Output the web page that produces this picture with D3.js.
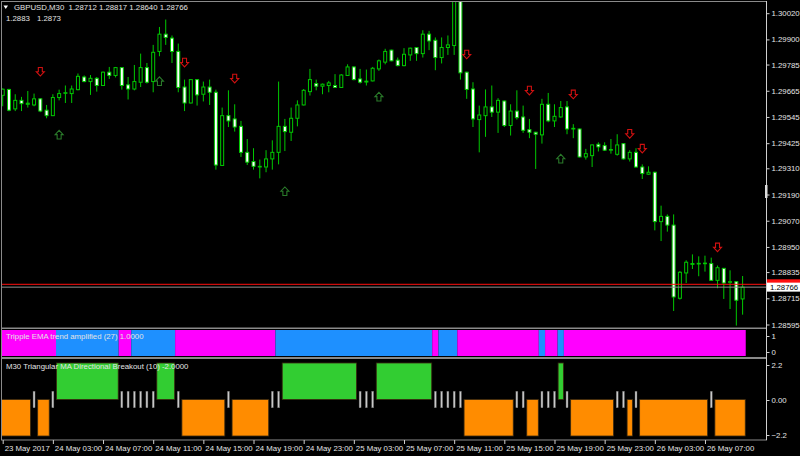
<!DOCTYPE html>
<html><head><meta charset="utf-8">
<script src="https://cdn.jsdelivr.net/npm/d3@7/dist/d3.min.js"></script>
<style>
body{margin:0;background:#000;}
svg{display:block;}
text{font-family:"Liberation Sans",Arial,sans-serif;font-size:7.8px;fill:#e4e4e4;white-space:pre;}
</style>
</head><body>
<svg id="chart" width="800" height="456"></svg>
<script>
// ---------------- DATA ----------------
const symbolTitle = "GBPUSD,M30";
const headerOHLC = ["1.28712", "1.28817", "1.28640", "1.28766"];
const headerLine2 = ["1.2883", "1.2873"];
const trendLabel = "Tripple EMA trend amplified (27) 1.0000";
const breakoutLabel = "M30 Triangular MA Directional Breakout (10) -2.0000";

const timeLabels = ["23 May 2017","24 May 03:00","24 May 07:00","24 May 11:00","24 May 15:00",
  "24 May 19:00","24 May 23:00","25 May 03:00","25 May 07:00","25 May 11:00","25 May 15:00",
  "25 May 19:00","25 May 23:00","26 May 03:00","26 May 07:00"];
const timeLabelBars = [0,8,16,24,32,40,48,56,64,72,80,88,96,104,112];

const priceTicks = [1.30020,1.29900,1.29785,1.29665,1.29545,1.29425,1.29310,1.29190,1.29070,1.28950,1.28835,1.28715,1.28595];
const trendTicks = [1, 0];
const breakoutTicks = [2.2, 0, -2.2];

const opens = [1.29644,1.29671,1.29582,1.29621,1.29603,1.29600,1.29628,1.29576,1.29551,1.29634,
 1.29654,1.29652,1.29670,1.29728,1.29707,1.29722,1.29689,1.29750,1.29735,1.29771,
 1.29692,1.29673,1.29704,1.29771,1.29707,1.29845,1.29924,1.29906,1.29845,1.29682,
 1.29609,1.29716,1.29649,1.29682,1.29658,1.29323,1.29551,1.29536,1.29502,1.29383,
 1.29341,1.29316,1.29316,1.29353,1.29383,1.29502,1.29475,1.29539,1.29600,1.29661,
 1.29698,1.29686,1.29689,1.29689,1.29680,1.29735,1.29774,1.29719,1.29709,1.29710,
 1.29765,1.29796,1.29851,1.29805,1.29780,1.29829,1.29863,1.29835,1.29924,1.29896,
 1.29817,1.29863,1.29872,1.30075,1.29750,1.29673,1.29533,1.29551,1.29591,1.29567,
 1.29618,1.29506,1.29572,1.29545,1.29487,1.29475,1.29463,1.29603,1.29527,1.29545,
 1.29591,1.29490,1.29490,1.29362,1.29368,1.29420,1.29414,1.29393,1.29374,1.29423,
 1.29353,1.29383,1.29316,1.29283,1.29292,1.29066,1.29090,1.29050,1.28715,1.28831,
 1.28870,1.28875,1.28874,1.28874,1.28797,1.28852,1.28788,1.28791,1.28712];
const highs = [1.29676,1.29674,1.29649,1.29637,1.29664,1.29652,1.29631,1.29600,1.29649,1.29670,
 1.29689,1.29689,1.29744,1.29735,1.29737,1.29728,1.29753,1.29774,1.29774,1.29773,
 1.29728,1.29783,1.29835,1.29792,1.29875,1.29957,1.29991,1.29918,1.29881,1.29716,
 1.29718,1.29718,1.29707,1.29716,1.29670,1.29588,1.29667,1.29603,1.29527,1.29444,
 1.29402,1.29350,1.29393,1.29438,1.29707,1.29536,1.29588,1.29621,1.29673,1.29765,
 1.29716,1.29698,1.29710,1.29741,1.29741,1.29786,1.29776,1.29765,1.29762,1.29774,
 1.29808,1.29857,1.29853,1.29817,1.29860,1.29862,1.29865,1.29942,1.29939,1.29909,
 1.29909,1.29918,1.30120,1.30100,1.29752,1.29704,1.29597,1.29671,1.29689,1.29631,
 1.29620,1.29603,1.29667,1.29597,1.29536,1.29477,1.29628,1.29655,1.29603,1.29618,
 1.29618,1.29512,1.29492,1.29399,1.29419,1.29429,1.29429,1.29444,1.29466,1.29425,
 1.29393,1.29402,1.29328,1.29319,1.29294,1.29139,1.29099,1.29099,1.28840,1.28889,
 1.28916,1.28907,1.28910,1.28901,1.28865,1.28854,1.28843,1.28793,1.28817];
const lows = [1.29594,1.29571,1.29572,1.29572,1.29588,1.29594,1.29567,1.29539,1.29549,1.29621,
 1.29609,1.29609,1.29667,1.29704,1.29646,1.29661,1.29687,1.29719,1.29726,1.29670,
 1.29625,1.29667,1.29682,1.29698,1.29658,1.29823,1.29875,1.29792,1.29658,1.29572,
 1.29607,1.29597,1.29616,1.29600,1.29304,1.29321,1.29499,1.29478,1.29362,1.29325,
 1.29304,1.29264,1.29292,1.29304,1.29328,1.29389,1.29435,1.29502,1.29598,1.29643,
 1.29667,1.29649,1.29658,1.29678,1.29678,1.29733,1.29713,1.29698,1.29689,1.29708,
 1.29756,1.29786,1.29800,1.29777,1.29777,1.29802,1.29802,1.29817,1.29851,1.29759,
 1.29790,1.29829,1.29829,1.29716,1.29628,1.29499,1.29383,1.29454,1.29545,1.29472,
 1.29499,1.29460,1.29533,1.29472,1.29448,1.29307,1.29423,1.29521,1.29499,1.29542,
 1.29466,1.29448,1.29360,1.29350,1.29316,1.29387,1.29389,1.29377,1.29368,1.29350,
 1.29341,1.29313,1.29261,1.29281,1.29026,1.28977,1.29020,1.28657,1.28709,1.28785,
 1.28849,1.28816,1.28837,1.28795,1.28761,1.28712,1.28666,1.28590,1.28640];
const closes = [1.29672,1.29576,1.29621,1.29606,1.29608,1.29628,1.29572,1.29551,1.29634,1.29652,
 1.29656,1.29673,1.29731,1.29707,1.29722,1.29689,1.29750,1.29735,1.29771,1.29689,
 1.29673,1.29707,1.29771,1.29704,1.29841,1.29924,1.29909,1.29845,1.29680,1.29609,
 1.29716,1.29646,1.29682,1.29658,1.29325,1.29551,1.29527,1.29499,1.29383,1.29338,
 1.29319,1.29319,1.29353,1.29383,1.29502,1.29478,1.29539,1.29600,1.29667,1.29716,
 1.29686,1.29695,1.29701,1.29680,1.29737,1.29774,1.29716,1.29704,1.29705,1.29768,
 1.29802,1.29845,1.29802,1.29780,1.29832,1.29860,1.29835,1.29924,1.29893,1.29817,
 1.29863,1.29875,1.30075,1.29747,1.29671,1.29536,1.29554,1.29591,1.29567,1.29621,
 1.29506,1.29572,1.29542,1.29484,1.29475,1.29466,1.29603,1.29527,1.29548,1.29588,
 1.29490,1.29493,1.29362,1.29377,1.29417,1.29408,1.29393,1.29396,1.29417,1.29353,
 1.29383,1.29316,1.29286,1.29292,1.29066,1.29090,1.29050,1.28721,1.28834,1.28880,
 1.28874,1.28872,1.28876,1.28797,1.28855,1.28785,1.28791,1.28706,1.28766];

const bidPrice = 1.28766;
const askPrice = 1.28779;

// signal arrows: bar index + price level
const sellArrowBars   = [6, 29, 37, 74, 84, 91, 100, 102, 114];
const sellArrowPrices = [1.29752,1.29794,1.29721,1.29831,1.29666,1.29648,1.29468,1.29400,1.28948];
const buyArrowBars    = [9, 25, 45, 60, 89];
const buyArrowPrices  = [1.29464,1.29709,1.29205,1.29638,1.29354];

// Tripple EMA trend: 1 = up (blue), -1 = down (magenta); histogram height 1
const trendState = [-1,-1,-1,-1,-1,-1,-1,-1,-1, 1,1,1,1,1,1,1,1,1,1, -1,-1, 1,1,1,1,1,1,1,
 -1,-1,-1,-1,-1,-1,-1,-1,-1,-1,-1,-1,-1,-1,-1,-1,
 1,1,1,1,1,1,1,1,1,1,1,1,1,1,1,1,1,1,1,1,1,1,1,1,1,
 -1, 1,1,1, -1,-1,-1,-1,-1,-1,-1,-1,-1,-1,-1,-1,-1, 1, -1,-1, 1,
 -1,-1,-1,-1,-1,-1,-1,-1,-1,-1,-1,-1,-1,-1,-1,-1,-1,-1,-1,-1,-1,-1,-1,-1,-1,-1,-1,-1,-1];
const trendValue = 1;

// Triangular MA breakout histogram: 2.2 up, -2.2 down, 0 neutral
const breakout = [-2.2,-2.2,-2.2,-2.2,-2.2, 0, -2.2,-2.2, 0,
 2.2,2.2,2.2,2.2,2.2,2.2,2.2,2.2,2.2,2.2, 0,0,0,0,0,0, 2.2,2.2,2.2, 0,
 -2.2,-2.2,-2.2,-2.2,-2.2,-2.2,-2.2, 0, -2.2,-2.2,-2.2,-2.2,-2.2,-2.2, 0,0,
 2.2,2.2,2.2,2.2,2.2,2.2,2.2,2.2,2.2,2.2,2.2,2.2, 0,0,0,
 2.2,2.2,2.2,2.2,2.2,2.2,2.2,2.2,2.2, 0,0,0,0,0,
 -2.2,-2.2,-2.2,-2.2,-2.2,-2.2,-2.2,-2.2, 0,0, -2.2,-2.2, 0,0,0, 2.2, 0,
 -2.2,-2.2,-2.2,-2.2,-2.2,-2.2,-2.2, 0,0, -2.2, 0,
 -2.2,-2.2,-2.2,-2.2,-2.2,-2.2,-2.2,-2.2,-2.2,-2.2,-2.2, 0,
 -2.2,-2.2,-2.2,-2.2,-2.2];
const neutralBand = 0.5;

// ---------------- STYLE / LAYOUT ----------------
const C = {
  frame:"#8a8a8a", text:"#e4e4e4", candle:"#00c800", bear:"#ffffff", bull:"#000000",
  sell:"#d01010", buy:"#2a7a2a", up:"#1e90ff", down:"#ff00ff",
  bUp:"#32cd32", bDown:"#ff8c00", bNeutral:"#c8c8c8", ask:"#ff1010", bid:"#909090"
};
const plotL = 2, plotR = 766;
const mainP = {top:2, bottom:327.5};
const p1 = {top:329, bottom:357};
const p2 = {top:359, bottom:439.5};

const svg = d3.select("#chart");
svg.append("rect").attr("width",800).attr("height",456).attr("fill","#000");

const n = opens.length;
const x = d3.scaleLinear().domain([0, 118]).range([2.7, 742.6]);
const step = x(1) - x(0);
const y = d3.scaleLinear().domain([1.28595, 1.30020]).range([324.5, 13.2]);
const y1 = d3.scaleLinear().domain([0, 1]).range([356, 330]);
const y2 = d3.scaleLinear().domain([-2.2, 2.2]).range([436, 363]);

const defs = svg.append("defs");
function clip(id, p){
  defs.append("clipPath").attr("id",id).append("rect")
    .attr("x",plotL).attr("y",p.top).attr("width",plotR-plotL).attr("height",p.bottom-p.top);
}
clip("cMain", mainP); clip("c1", p1); clip("c2", p2);

function makeRuns(vals){
  const runs = [];
  vals.forEach((v,i)=>{
    const last = runs[runs.length-1];
    if (last && last.v === v && last.end === i-1) last.end = i;
    else runs.push({v, start:i, end:i});
  });
  return runs;
}

// ---------- main candles ----------
const gm = svg.append("g").attr("clip-path","url(#cMain)");
const idx = d3.range(n);
gm.selectAll("line.wick").data(idx).join("line")
  .attr("x1", i=>x(i)).attr("x2", i=>x(i))
  .attr("y1", i=>y(highs[i])).attr("y2", i=>y(lows[i]))
  .attr("stroke", C.candle).attr("stroke-width",1);
gm.selectAll("rect.body").data(idx).join("rect")
  .attr("x", i=>x(i)-1.5).attr("width",3)
  .attr("y", i=>y(Math.max(opens[i],closes[i])))
  .attr("height", i=>Math.max(0.6, Math.abs(y(opens[i])-y(closes[i]))))
  .attr("fill", i=> closes[i] >= opens[i] ? C.bull : C.bear)
  .attr("stroke", C.candle).attr("stroke-width",1);

// arrows
function arrowPath(cx, cy, dir){ // dir=1 down, -1 up
  const h=4.3, s=2, w=4;
  return `M${cx-s},${cy-h*dir} L${cx+s},${cy-h*dir} L${cx+s},${cy} L${cx+w},${cy} L${cx},${cy+h*dir} L${cx-w},${cy} L${cx-s},${cy} Z`;
}
gm.selectAll("path.sell").data(sellArrowBars).join("path")
  .attr("d",(b,k)=>arrowPath(x(b), y(sellArrowPrices[k]), 1))
  .attr("fill","none").attr("stroke",C.sell).attr("stroke-width",1.1);
gm.selectAll("path.buy").data(buyArrowBars).join("path")
  .attr("d",(b,k)=>arrowPath(x(b), y(buyArrowPrices[k]), -1))
  .attr("fill","none").attr("stroke",C.buy).attr("stroke-width",1.1);

// bid / ask lines
gm.append("line").attr("x1",plotL).attr("x2",plotR).attr("y1",y(bidPrice)).attr("y2",y(bidPrice))
  .attr("stroke",C.bid).attr("stroke-width",1);
gm.append("line").attr("x1",plotL).attr("x2",plotR).attr("y1",y(askPrice)).attr("y2",y(askPrice))
  .attr("stroke",C.ask).attr("stroke-width",1);

// ---------- pane 1: trend ----------
const g1 = svg.append("g").attr("clip-path","url(#c1)");
g1.selectAll("rect").data(makeRuns(trendState)).join("rect")
  .attr("x", r=>x(r.start)-step/2).attr("width", r=>x(r.end)-x(r.start)+step)
  .attr("y", y1(trendValue)).attr("height", y1(0)-y1(trendValue))
  .attr("fill", r=> r.v > 0 ? C.up : C.down);

// ---------- pane 2: breakout ----------
const g2 = svg.append("g").attr("clip-path","url(#c2)");
const runs = makeRuns(breakout).filter(r=>r.v!==0);
g2.selectAll("rect.run").data(runs).join("rect")
  .attr("x", r=>x(r.start)-step/2+0.5).attr("width", r=>x(r.end)-x(r.start)+step-1)
  .attr("y", r=>Math.min(y2(r.v), y2(0))).attr("height", r=>Math.abs(y2(r.v)-y2(0)))
  .attr("fill", r=> r.v>0 ? C.bUp : C.bDown)
  .attr("stroke","#3a2a10").attr("stroke-width",0.8);
g2.selectAll("rect.neu").data(idx.filter(i=>breakout[i]===0)).join("rect")
  .attr("x", i=>x(i)-1).attr("width",2)
  .attr("y", y2(neutralBand)).attr("height", y2(-neutralBand)-y2(neutralBand))
  .attr("fill", C.bNeutral).attr("stroke","#555").attr("stroke-width",0.4);

// ---------- frames ----------
[mainP, p1, p2].forEach(p=>{
  svg.append("rect").attr("x",plotL-0.5).attr("y",p.top-0.5)
    .attr("width",plotR-plotL+1).attr("height",p.bottom-p.top+1)
    .attr("fill","none").attr("stroke",C.frame).attr("stroke-width",1);
});
svg.append("line").attr("x1",plotR+0.5).attr("x2",plotR+0.5).attr("y1",1).attr("y2",p2.bottom+0.5)
  .attr("stroke","#d0d0d0").attr("stroke-width",1);

// ---------- right axes ----------
function rightAxis(scale, ticks, fmt){
  const g = svg.append("g").attr("transform",`translate(${plotR+0.5},0)`)
    .call(d3.axisRight(scale).tickValues(ticks).tickSize(3).tickPadding(2).tickFormat(fmt));
  g.select(".domain").remove();
  g.selectAll(".tick line").attr("stroke","#d0d0d0");
  g.selectAll("text").attr("fill",C.text).style("font-size","7.8px")
    .style("font-family",'"Liberation Sans",Arial,sans-serif');
  return g;
}
rightAxis(y, priceTicks, d3.format(".5f"));
rightAxis(d3.scaleLinear().domain([0,1]).range([352,336]), trendTicks, d3.format("d"));
rightAxis(d3.scaleLinear().domain([-2.2,2.2]).range([435,365]), breakoutTicks, d=> d===0 ? "0.00" : d3.format(".1f")(d));

// shift marker on axis
svg.append("rect").attr("x",765).attr("y",185).attr("width",2.5).attr("height",13).attr("fill","#dcdcdc");

// ask / bid labels
svg.append("rect").attr("x",767).attr("y",y(askPrice)-5).attr("width",33).attr("height",10).attr("fill",C.ask);
svg.append("rect").attr("x",767).attr("y",y(bidPrice)-4.5).attr("width",33).attr("height",9).attr("fill","#ffffff");
svg.append("text").attr("x",770).attr("y",y(bidPrice)).attr("dominant-baseline","central")
  .style("fill","#000").text(d3.format(".5f")(bidPrice));

// ---------- time axis ----------
const gt = svg.append("g").attr("transform",`translate(0,${p2.bottom+0.5})`)
  .call(d3.axisBottom(x).tickValues(timeLabelBars).tickSize(4).tickFormat((d,k)=>timeLabels[k]));
gt.select(".domain").remove();
gt.selectAll(".tick line").attr("stroke","#d0d0d0");
gt.selectAll("text").attr("text-anchor","start").attr("dx","1.5").attr("y",4).attr("dy","0.9em")
  .attr("fill",C.text).style("font-size","7.8px").style("font-family",'"Liberation Sans",Arial,sans-serif');

// ---------- headers ----------
svg.append("path").attr("d","M3.5,5.5 L8,5.5 L5.75,9 Z").attr("fill","#fff");
svg.append("text").attr("x",14).attr("y",7.5).attr("dominant-baseline","central")
  .text(symbolTitle + "  " + headerOHLC.join(" "));
svg.append("text").attr("x",6).attr("y",18.3).attr("dominant-baseline","central").text(headerLine2[0]);
svg.append("text").attr("x",37).attr("y",18.3).attr("dominant-baseline","central").text(headerLine2[1]);
svg.append("text").attr("x",6).attr("y",336.5).attr("dominant-baseline","central").text(trendLabel);
svg.append("text").attr("x",6).attr("y",366.3).attr("dominant-baseline","central").text(breakoutLabel);
</script>
</body></html>
